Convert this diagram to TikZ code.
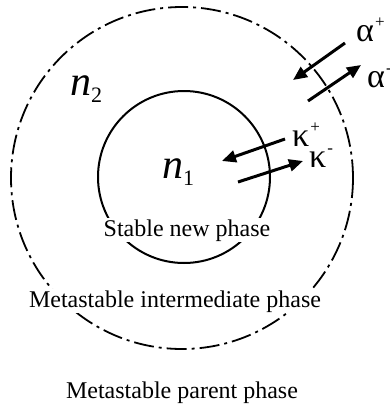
\documentclass[tikz,border=0pt]{standalone}
\usepackage{fontspec}
\setmainfont{Liberation Serif}
\usetikzlibrary{arrows.meta}
\tikzset{
  phase/.style={font=\fontsize{24}{24}\selectfont, inner sep=1pt, anchor=base},
  greek/.style={font=\fontsize{34}{34}\selectfont, inner sep=0pt, anchor=base west, text depth=0pt, text height=18pt},
  nlab/.style={inner sep=0pt, anchor=base west},
  flux/.style={line width=3pt, -{Triangle[length=14pt,width=12pt]}},
  outerc/.style={line width=1.8pt, dash pattern=on 20pt off 5pt on 3pt off 5pt},
  innerc/.style={line width=2pt}
}
\newcommand{\nsub}[1]{{\fontsize{42}{42}\selectfont\textit{n}}\raisebox{-7pt}{\fontsize{22}{22}\selectfont #1}}
\newcommand{\gsup}[2]{#1\kern1pt\raisebox{14pt}{\fontsize{17}{17}\selectfont #2}}
\begin{document}
\begin{tikzpicture}[x=1pt,y=-1pt]
\useasboundingbox (0,0) rectangle (390,410);
\draw[outerc] (182,178) circle[radius=171];
\draw[innerc] (184,177) circle[radius=86];
\node[nlab] (n2) at (70,95) {\nsub{2}};
\node[nlab] (n1) at (162,178) {\nsub{1}};
\node[phase, fill=white] (stable) at (187,236) {Stable new phase};
\node[phase, fill=white] (inter) at (175,307) {Metastable intermediate phase};
\node[phase] (parent) at (182,398) {Metastable parent phase};
% alpha fluxes
\coordinate (ap1) at (345,43);
\coordinate (ap2) at (293,80);
\coordinate (am1) at (308,101);
\coordinate (am2) at (361,65);
\draw[flux] (ap1) -- (ap2);
\draw[flux] (am1) -- (am2);
\node[greek] (aplus) at (356,41) {\gsup{α}{+}};
\node[greek] (aminus) at (367,87) {\gsup{α}{-}};
% kappa fluxes
\coordinate (kp1) at (285,139);
\coordinate (kp2) at (222,161);
\coordinate (km1) at (238,182);
\coordinate (km2) at (303,161);
\draw[flux] (kp1) -- (kp2);
\draw[flux] (km1) -- (km2);
\node[greek] (kplus) at (292,146) {\gsup{κ}{+}};
\node[greek] (kminus) at (309,167) {\gsup{κ}{-}};
\end{tikzpicture}
\end{document}
